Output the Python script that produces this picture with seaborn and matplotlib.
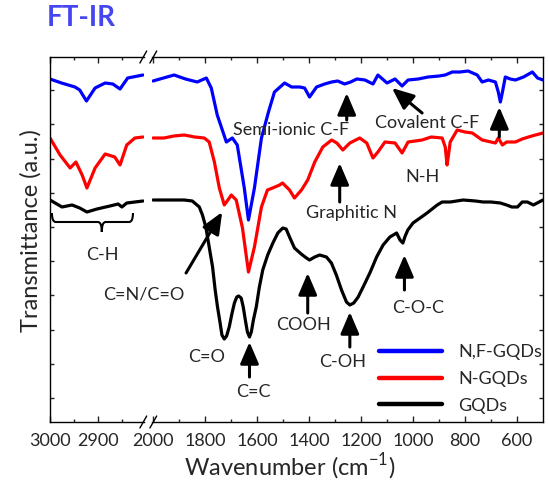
import numpy as np
import pandas as pd
import matplotlib
matplotlib.use("Agg")
import matplotlib.pyplot as plt
from matplotlib.lines import Line2D
from matplotlib.path import Path
from matplotlib.patches import PathPatch
import seaborn as sns

sns.set_theme(style="ticks")
plt.rcParams["font.family"] = ["Lato", "DejaVu Sans"]
plt.rcParams["mathtext.fontset"] = "custom"
plt.rcParams["mathtext.rm"] = "Lato"
plt.rcParams["axes.linewidth"] = 1.0
plt.rcParams["lines.solid_joinstyle"] = "round"
plt.rcParams["lines.solid_capstyle"] = "round"

samples = ["N,F-GQDs", "N-GQDs", "GQDs"]
colors = ["#0000ff", "#ff0000", "#000000"]

# ---- C-H stretching window (3000-2800 cm-1) ----
wn_ch_nf = [3000, 2976, 2948, 2938, 2924, 2906, 2885, 2869, 2854, 2838, 2806]
tr_ch_nf = [343, 339, 335, 332, 321, 334, 339, 338, 333, 344, 347]

wn_ch_n = [3000, 2979, 2958, 2946, 2933, 2923, 2906, 2885, 2865, 2854, 2840, 2823, 2806]
tr_ch_n = [284, 267, 254, 260, 247, 234, 254, 268, 265, 257, 277, 284, 285]

wn_ch_g = [3000, 2975, 2954, 2938, 2923, 2902, 2875, 2858, 2850, 2840, 2806]
tr_ch_g = [222, 215, 217, 214, 210, 213, 216, 218, 215, 219, 221]

# ---- fingerprint window (2000-500 cm-1) ----
wn_fp_nf = [2000, 1960, 1919, 1875, 1830, 1795, 1776, 1753, 1718, 1695, 1676, 1649,
            1633, 1610, 1583, 1556, 1533, 1494, 1467, 1436, 1417, 1398, 1371, 1340,
            1313, 1290, 1263, 1240, 1216, 1185, 1154, 1135, 1100, 1069, 1042, 1019,
            980, 942, 900, 876, 849, 820, 788, 753, 734, 710, 683, 672, 664, 656,
            645, 626, 606, 575, 541, 521, 500]
tr_fp_nf = [341, 344, 347, 343, 340, 344, 334, 307, 280, 284, 277, 234,
            202, 234, 284, 310, 330, 339, 335, 335, 334, 325, 335, 338,
            340, 341, 338, 340, 343, 342, 338, 347, 339, 343, 336, 342,
            343, 345, 346, 347, 350, 350, 351, 347, 340, 342, 340, 330, 320, 330,
            345, 343, 342, 345, 350, 344, 342]

wn_fp_n = [2000, 1958, 1920, 1880, 1840, 1803, 1784, 1764, 1745, 1726, 1712, 1699,
           1680, 1656, 1633, 1610, 1583, 1560, 1540, 1513, 1502, 1475, 1456, 1429,
           1405, 1378, 1347, 1313, 1293, 1270, 1243, 1205, 1178, 1154, 1135, 1108,
           1069, 1042, 1019, 965, 930, 888, 876, 869, 862, 857, 830, 800, 772, 734,
           700, 683, 672, 656, 640, 606, 580, 556, 529, 500]
tr_fp_n = [284, 284, 286, 287, 285, 284, 280, 260, 234, 217, 222, 227,
           222, 194, 150, 175, 215, 232, 234, 237, 239, 232, 224, 232,
           242, 260, 275, 282, 279, 272, 279, 284, 279, 264, 270, 280,
           279, 269, 280, 282, 285, 284, 275, 257, 270, 280, 292, 290, 289, 282,
           280, 279, 284, 277, 280, 280, 283, 285, 287, 289]

wn_fp_g = [2000, 1940, 1880, 1849, 1822, 1810, 1797, 1784, 1771, 1761, 1752, 1742,
           1735, 1726, 1717, 1707, 1696, 1687, 1678, 1671, 1661, 1653, 1645, 1637,
           1629, 1622, 1614, 1603, 1591, 1578, 1559, 1539, 1520, 1501, 1488, 1475,
           1456, 1430, 1410, 1398, 1378, 1359, 1333, 1314, 1295, 1275, 1256, 1243,
           1228, 1211, 1192, 1166, 1140, 1115, 1089, 1063, 1050, 1039, 1030, 1020,
           1000, 946, 907, 888, 857, 807, 760, 730, 700, 664, 640, 620, 598, 580,
           560, 537, 515, 500]
tr_fp_g = [222, 222, 222, 221, 215, 207, 195, 175, 155, 132, 115, 99,
           87, 83, 86, 95, 109, 119, 125, 126, 124, 115, 102, 90,
           85, 90, 102, 115, 135, 152, 167, 179, 189, 194, 193, 185,
           174, 168, 164, 162, 165, 167, 165, 159, 147, 132, 120, 117,
           119, 125, 135, 149, 165, 177, 185, 189, 182, 179, 186, 192,
           199, 209, 217, 220, 220, 222, 221, 220, 220, 219, 217, 215, 215, 220,
           220, 217, 220, 222]


def frame(wns, trs):
    parts = []
    for name, w, t in zip(samples, wns, trs):
        parts.append(pd.DataFrame({"wavenumber": w, "transmittance": t, "sample": name}))
    return pd.concat(parts, ignore_index=True)


df_ch = frame([wn_ch_nf, wn_ch_n, wn_ch_g], [tr_ch_nf, tr_ch_n, tr_ch_g])
df_fp = frame([wn_fp_nf, wn_fp_n, wn_fp_g], [tr_fp_nf, tr_fp_n, tr_fp_g])

W, H = 549, 482
fig = plt.figure(figsize=(W / 100, H / 100), dpi=100)
ax_l = fig.add_axes([50 / W, 60 / H, 94 / W, 365 / H])
ax_r = fig.add_axes([152 / W, 60 / H, 391 / W, 365 / H])

sns.lineplot(data=df_ch, x="wavenumber", y="transmittance", hue="sample",
             hue_order=samples, palette=colors, estimator=None, sort=False,
             lw=2.3, ax=ax_l, legend=False)
sns.lineplot(data=df_fp, x="wavenumber", y="transmittance", hue="sample",
             hue_order=samples, palette=colors, estimator=None, sort=False,
             lw=2.3, ax=ax_r)

ytick_pos = [24 + 34.2 * k for k in range(10)]
for ax in (ax_l, ax_r):
    ax.set_ylim(0, 365)
    ax.set_yticks(ytick_pos)
    ax.set_xlabel("")
    ax.set_ylabel("")
    ax.tick_params(axis="x", which="both", direction="in", top=True, bottom=True,
                   labelsize=13, pad=8, width=1.0)
    ax.tick_params(axis="x", which="major", length=4)
    ax.tick_params(axis="x", which="minor", length=2.5)
    ax.tick_params(axis="y", direction="in", length=3, width=1.0,
                   labelleft=False, labelright=False)
    for s in ax.spines.values():
        s.set_linewidth(1.0)
        s.set_color("black")

ax_l.set_xlim(3000, 2804)
ax_l.set_xticks([3000, 2900])
ax_l.set_xticks([2950, 2850], minor=True)
ax_l.spines["right"].set_visible(False)
ax_l.tick_params(axis="y", left=True, right=False)

ax_r.set_xlim(2004, 500)
ax_r.set_xticks(list(range(2000, 599, -200)))
ax_r.set_xticks(list(range(1900, 699, -200)), minor=True)
ax_r.spines["left"].set_visible(False)
ax_r.tick_params(axis="y", left=False, right=True)

# axis-break slashes on the top and bottom frame
for xc in (143.3, 153.3):
    for yc in (57, 422):
        fig.add_artist(Line2D([(xc - 3.4) / W, (xc + 3.4) / W],
                              [1 - (yc + 6) / H, 1 - (yc - 6) / H],
                              transform=fig.transFigure, color="black", lw=1.0))

# band assignments
arrow = dict(arrowstyle="-|>,head_length=1.1,head_width=0.47", lw=2.2,
             color="black", shrinkA=0, shrinkB=0)
arrows = [((1255, 329), (1255, 302)),
          ((1081, 334), (965, 309)),
          ((668, 315), (668, 285)),
          ((1282, 259), (1282, 220)),
          ((1734, 210), (1873, 149)),
          ((1629, 80), (1629, 45)),
          ((1405, 149), (1405, 109)),
          ((1243, 110), (1243, 75)),
          ((1033, 167), (1033, 132))]
for head, tail in arrows:
    ax_r.annotate("", xy=head, xytext=tail, arrowprops=arrow)

labels = [("Semi-ionic C-F", 1471, 292), ("Covalent C-F", 946, 299),
          ("N-H", 965, 245), ("Graphitic N", 1236, 209), ("C=N/C=O", 2035, 127),
          ("C=O", 1792, 65), ("C=C", 1614, 30), ("COOH", 1423, 97),
          ("C-OH", 1271, 60), ("C-O-C", 981, 114)]
for txt, x, y in labels:
    ax_r.text(x, y, txt, ha="center", va="center", fontsize=13, clip_on=False)

ax_l.text(2890, 167, "C-H", ha="center", va="center", fontsize=13)

# curly brace spanning the C-H bands
x0, xc, x1 = 2996, 2892, 2827
yt, ym, yb = 209, 200, 190
d = 8
verts = [(x0, yt), (x0, ym), (x0 - d, ym),
         (xc + d, ym), (xc, ym), (xc, yb),
         (xc, ym), (xc - d, ym),
         (x1 + d, ym), (x1, ym), (x1, yt)]
codes = [Path.MOVETO, Path.CURVE3, Path.CURVE3,
         Path.LINETO, Path.CURVE3, Path.CURVE3,
         Path.CURVE3, Path.CURVE3,
         Path.LINETO, Path.CURVE3, Path.CURVE3]
ax_l.add_patch(PathPatch(Path(verts, codes), fill=False, lw=1.5, color="black"))

handles, names = ax_r.get_legend_handles_labels()
ax_r.get_legend().remove()
leg = fig.legend(handles, names, loc="upper left",
                 bbox_to_anchor=(379 / W, 1 - 344 / H), frameon=False,
                 fontsize=13, handlelength=3.5, handletextpad=0.9,
                 labelspacing=0.6, borderpad=0, borderaxespad=0)
for ln in leg.get_lines():
    ln.set_linewidth(3.2)

fig.text(290 / W, 1 - 475 / H, "Wavenumber (cm$^{\\mathregular{-1}}$)",
         ha="center", va="baseline", fontsize=17)
fig.text(31 / W, 1 - 231 / H, "Transmittance (a.u.)", rotation=90,
         ha="center", va="center", fontsize=17)
fig.text(47 / W, 1 - 18 / H, "FT-IR", fontsize=20, fontweight="bold",
         color="#4646f0", va="center", ha="left")

fig.savefig("out.png", dpi=100)
